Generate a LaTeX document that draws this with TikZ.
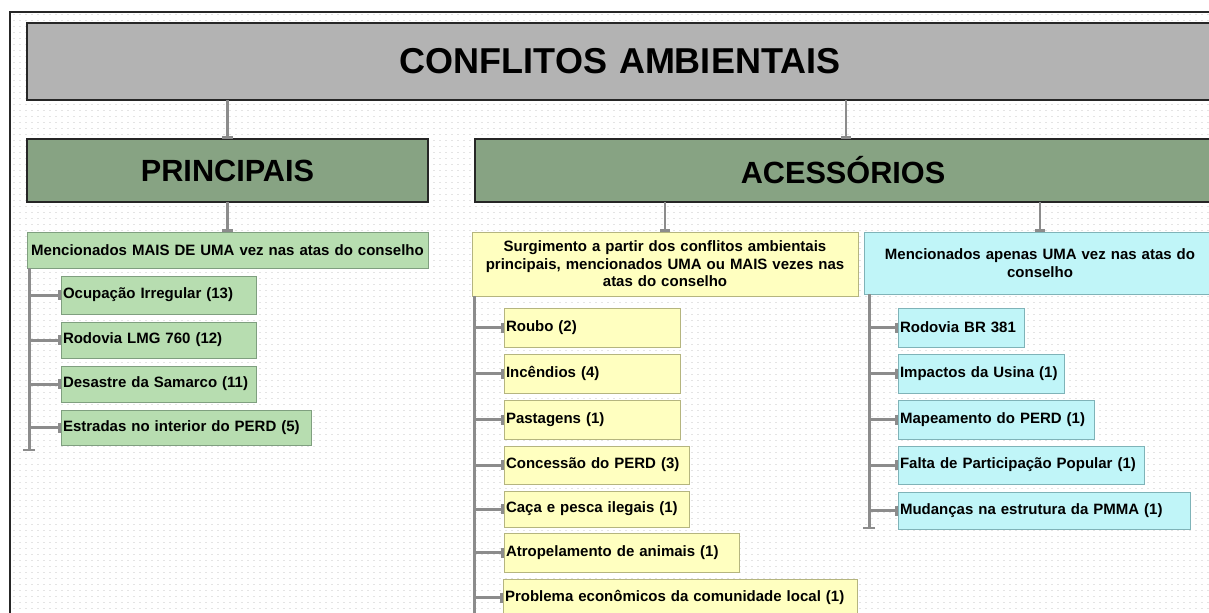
\documentclass[tikz,border=0pt]{standalone}
\usepackage{fontspec}
\setmainfont{Liberation Sans}
\usetikzlibrary{arrows.meta}
\definecolor{titlegray}{HTML}{B3B3B3}
\definecolor{maingreen}{HTML}{87A383}
\definecolor{lightgreen}{HTML}{B7DDB0}
\definecolor{lightyellow}{HTML}{FFFFC0}
\definecolor{lightcyan}{HTML}{C0F5F8}
\definecolor{linkgray}{HTML}{8C8C8C}
\definecolor{greenedge}{HTML}{7F9F7F}
\definecolor{yellowedge}{HTML}{B5B57F}
\definecolor{cyanedge}{HTML}{7FB3B8}
\definecolor{dotcolor}{HTML}{E4E4E4}
\newcommand{\pbox}[7]{%
  \pgfmathsetmacro\bw{(#5-#3)*0.75}%
  \pgfmathsetmacro\bh{(#6-#4)*0.75}%
  \pgfmathsetmacro\tw{(#5-#3)*0.75-3}%
  \node[#2, anchor=north west, minimum width=\bw pt, minimum height=\bh pt,
        text width=\tw pt] (#1) at (#3,#4) {#7};}
\tikzset{
  basebox/.style={rectangle, inner xsep=1.5pt, inner ysep=0pt, outer sep=0pt,
    font=\fontsize{11.25}{13.1}\selectfont\bfseries},
  titlebox/.style={basebox, fill=titlegray, draw=black!85, line width=1.1pt,
    align=center, font=\fontsize{27}{32}\selectfont\bfseries},
  levelbox/.style={basebox, fill=maingreen, draw=black!85, line width=1.1pt,
    align=center, font=\fontsize{23}{28}\selectfont\bfseries},
  greenhead/.style={basebox, fill=lightgreen, draw=greenedge, line width=0.6pt, align=center},
  yellowhead/.style={basebox, fill=lightyellow, draw=yellowedge, line width=0.6pt, align=center},
  cyanhead/.style={basebox, fill=lightcyan, draw=cyanedge, line width=0.6pt, align=center},
  greenleaf/.style={greenhead, align=left},
  yellowleaf/.style={yellowhead, align=left},
  cyanleaf/.style={cyanhead, align=left},
  link/.style={draw=linkgray, line width=2.25pt},
  branch/.style={link, -{Bar[width=7.5pt, line width=2.25pt]}},
  trunk/.style={link, -{Bar[width=9pt, line width=1.8pt]}},
  toplink/.style={draw=linkgray, line width=1.7pt, -{Bar[width=8pt, line width=2pt]}},
  dotgrid/.style={draw=dotcolor, line width=1pt, dash pattern=on 1pt off 3.5pt},
}
\begin{document}
\begin{tikzpicture}[x=0.75pt, y=-0.75pt]
\useasboundingbox (0,0) rectangle (1209,612);
\clip (0,0) rectangle (1209,612);
\fill[white] (0,0) rectangle (1209,612);
\foreach \gx in {14,20,...,1208} \draw[dotgrid] (\gx,14) -- (\gx,612);
\draw[line width=1.5pt, black!85] (10,12) rectangle (1240,660);

% top levels
\pbox{title}{titlebox}{27}{23}{1213}{100}{CONFLITOS AMBIENTAIS}
\pbox{principais}{levelbox}{27}{139}{428}{202}{PRINCIPAIS}
\pbox{acessorios}{levelbox}{475}{139}{1211}{202}{ACESSÓRIOS}

% group headers
\pbox{ghead}{greenhead}{27}{232}{428}{268}{Mencionados MAIS DE UMA vez nas atas do conselho}
\pbox{yhead}{yellowhead}{472}{232}{858}{296}{Surgimento a partir dos conflitos ambientais\\principais, mencionados UMA ou MAIS vezes nas\\atas do conselho}
\pbox{chead}{cyanhead}{864}{232}{1216}{294}{Mencionados apenas UMA vez nas atas do\\conselho}

% green leaves
\pbox{g1}{greenleaf}{61}{276}{256}{314}{Ocupação Irregular (13)}
\pbox{g2}{greenleaf}{61}{322}{256}{358}{Rodovia LMG 760 (12)}
\pbox{g3}{greenleaf}{61}{366}{256}{402}{Desastre da Samarco (11)}
\pbox{g4}{greenleaf}{61}{410}{311}{445}{Estradas no interior do PERD (5)}

% yellow leaves
\pbox{y1}{yellowleaf}{504}{308}{680}{347}{Roubo (2)}
\pbox{y2}{yellowleaf}{504}{354}{680}{393}{Incêndios (4)}
\pbox{y3}{yellowleaf}{504}{400}{680}{439}{Pastagens (1)}
\pbox{y4}{yellowleaf}{504}{446}{689}{484}{Concessão do PERD (3)}
\pbox{y5}{yellowleaf}{504}{491}{689}{527}{Caça e pesca ilegais (1)}
\pbox{y6}{yellowleaf}{504}{533}{739}{572}{Atropelamento de animais (1)}
\pbox{y7}{yellowleaf}{503}{579}{857}{616}{Problema econômicos da comunidade local (1)}

% cyan leaves
\pbox{k1}{cyanleaf}{898}{308}{1024}{347}{Rodovia BR 381}
\pbox{k2}{cyanleaf}{898}{354}{1064}{393}{Impactos da Usina (1)}
\pbox{k3}{cyanleaf}{898}{400}{1094}{439}{Mapeamento do PERD (1)}
\pbox{k4}{cyanleaf}{898}{446}{1144}{484}{Falta de Participação Popular (1)}
\pbox{k5}{cyanleaf}{898}{492}{1190}{529}{Mudanças na estrutura da PMMA (1)}

% top connectors
\draw[toplink] (title.south -| principais.north) -- (principais.north);
\coordinate (acx) at (846,0);
\draw[toplink] (title.south -| acx) -- (acessorios.north -| acx);
\draw[toplink] (principais.south -| ghead.north) -- (ghead.north);
\draw[toplink] (acessorios.south -| yhead.north) -- (yhead.north);
\draw[toplink] (acessorios.south -| chead.north) -- (chead.north);

% trunks
\coordinate (gx) at (29,0);
\coordinate (gend) at (29,451);
\coordinate (yx) at (474,0);
\coordinate (yend) at (474,660);
\coordinate (kx) at (869,0);
\coordinate (kend) at (869,529);
\draw[trunk] (ghead.south -| gx) -- (gend);
\draw[link] (yhead.south -| yx) -- (yend);
\draw[trunk] (chead.south -| kx) -- (kend);

% branches
\foreach \n in {g1,g2,g3,g4} \draw[branch] (gx |- \n.west) -- (\n.west);
\foreach \n in {y1,y2,y3,y4,y5,y6,y7} \draw[branch] (yx |- \n.west) -- (\n.west);
\foreach \n in {k1,k2,k3,k4,k5} \draw[branch] (kx |- \n.west) -- (\n.west);
\end{tikzpicture}
\end{document}
